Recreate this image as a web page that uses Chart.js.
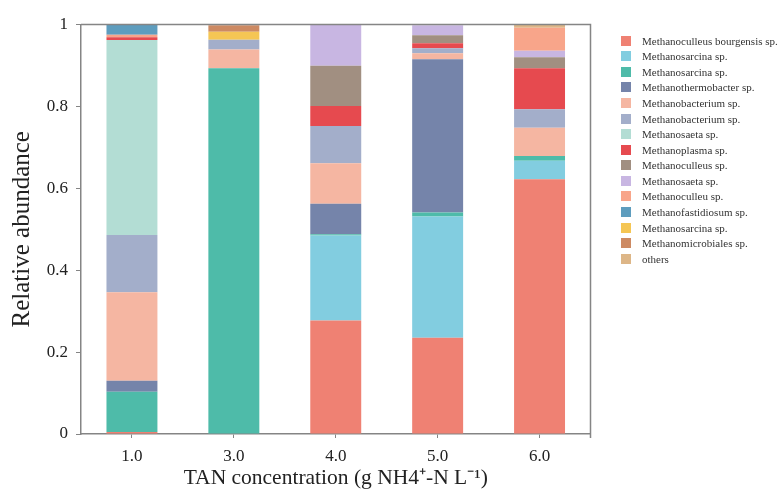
<!DOCTYPE html>
<html>
<head>
<meta charset="utf-8">
<script src="https://cdn.jsdelivr.net/npm/chart.js@4/dist/chart.umd.min.js"></script>
<style>
  body { margin: 0; background: #fff; }
  #wrap { position: relative; width: 781px; height: 495px; }
  #legend { position: absolute; left: 621px; top: 33px; font: 11px "Liberation Serif", serif; color: #333; }
  #legend .item { display: flex; align-items: center; height: 15.57px; white-space: nowrap; }
  #legend .box { width: 10px; height: 10px; margin-right: 11px; flex: none; }
</style>
</head>
<body>
<div id="wrap">
  <canvas id="abundanceChart" width="781" height="495"></canvas>
  <div id="legend"></div>
</div>
<script>
const categories = ['1.0', '3.0', '4.0', '5.0', '6.0'];

const taxa = [
  'Methanoculleus bourgensis sp.', 'Methanosarcina sp.', 'Methanosarcina sp.',
  'Methanothermobacter sp.', 'Methanobacterium sp.', 'Methanobacterium sp.',
  'Methanosaeta sp.', 'Methanoplasma sp.', 'Methanoculleus sp.', 'Methanosaeta sp.',
  'Methanoculleu sp.', 'Methanofastidiosum sp.', 'Methanosarcina sp.',
  'Methanomicrobiales sp.', 'others'
];

const colors = [
  '#ef8173', '#82cde0', '#4ebba9', '#7584aa', '#f5b6a2', '#a3aeca', '#b3ddd4',
  '#e64a4f', '#a18f81', '#c8b6e2', '#f8a58a', '#5e9dbe', '#f5c654', '#cd8a63', '#ddb687'
];

// relative abundance per taxon, for TAN 1.0 / 3.0 / 4.0 / 5.0 / 6.0
const bourgensis    = [0.005, 0,     0.277, 0.235, 0.622];
const sarcinaBlue   = [0,     0,     0.208, 0.296, 0.045];
const sarcinaTeal   = [0.098, 0.893, 0.003, 0.010, 0.012];
const thermobacter  = [0.027, 0,     0.074, 0.374, 0];
const bacteriumA    = [0.216, 0.046, 0.099, 0.015, 0.069];
const bacteriumB    = [0.140, 0.024, 0.091, 0.012, 0.045];
const saetaA        = [0.476, 0,     0,     0,     0];
const plasma        = [0.007, 0,     0.049, 0.012, 0.100];
const culleus       = [0,     0,     0.098, 0.020, 0.027];
const saetaB        = [0,     0,     0.100, 0.024, 0.016];
const culleu        = [0.006, 0,     0,     0,     0.056];
const fastidiosum   = [0.024, 0,     0,     0,     0];
const sarcinaYellow = [0,     0.019, 0,     0,     0];
const microbiales   = [0,     0.016, 0,     0,     0];
const others        = [0,     0,     0,     0,     0.008];

const series = [bourgensis, sarcinaBlue, sarcinaTeal, thermobacter, bacteriumA, bacteriumB,
  saetaA, plasma, culleus, saetaB, culleu, fastidiosum, sarcinaYellow, microbiales, others];

const yTicks = [0, 0.2, 0.4, 0.6, 0.8, 1];

const frameColor = '#858585';
const serif = '"Liberation Serif", "Times New Roman", serif';

// top and right edges of the plot box
const frame = {
  id: 'frame',
  afterDraw(chart) {
    const {ctx, chartArea: a} = chart;
    ctx.save();
    ctx.strokeStyle = frameColor;
    ctx.lineWidth = 1.5;
    ctx.beginPath();
    ctx.moveTo(a.left, a.top);
    ctx.lineTo(a.right, a.top);
    ctx.lineTo(a.right, a.bottom + 4);
    ctx.stroke();
    ctx.restore();
  }
};

const chart = new Chart(document.getElementById('abundanceChart'), {
  type: 'bar',
  data: {
    labels: categories,
    datasets: series.map((values, i) => ({
      label: taxa[i],
      data: values,
      backgroundColor: colors[i],
      borderWidth: 0,
      barPercentage: 0.5,
      categoryPercentage: 1
    }))
  },
  options: {
    responsive: false,
    animation: false,
    layout: { padding: { left: 4, top: 24.5, right: 190.5, bottom: 0 } },
    plugins: {
      legend: { display: false },
      tooltip: { enabled: false }
    },
    scales: {
      x: {
        stacked: true,
        afterFit(scale) { scale.height = 61; },
        grid: { display: true, drawOnChartArea: false, offset: false, tickLength: 4, color: frameColor },
        border: { display: true, color: frameColor, width: 1.5 },
        ticks: { color: '#222', padding: 8, font: { family: serif, size: 17 } },
        title: {
          display: true,
          text: 'TAN concentration (g NH4\u207A-N L\u207B\u00B9)',
          color: '#222',
          font: { family: serif, size: 21.5 },
          padding: { top: 0, bottom: 4 }
        }
      },
      y: {
        stacked: true,
        min: 0,
        max: 1,
        afterFit(scale) { scale.width = 77; },
        afterBuildTicks(scale) { scale.ticks = yTicks.map(v => ({ value: v })); },
        grid: { display: true, drawOnChartArea: false, tickLength: 5, color: frameColor },
        border: { display: true, color: frameColor, width: 1.5 },
        ticks: {
          color: '#222',
          padding: 8,
          font: { family: serif, size: 17 },
          callback: v => String(Math.round(v * 10) / 10)
        },
        title: {
          display: true,
          text: 'Relative abundance',
          color: '#222',
          font: { family: serif, size: 25 },
          padding: { top: 3, bottom: 4 }
        }
      }
    }
  },
  plugins: [frame]
});

// legend beside the plot
const legend = document.getElementById('legend');
chart.data.datasets.forEach(ds => {
  const row = document.createElement('div');
  row.className = 'item';
  const box = document.createElement('span');
  box.className = 'box';
  box.style.background = ds.backgroundColor;
  const txt = document.createElement('span');
  txt.textContent = ds.label;
  row.appendChild(box);
  row.appendChild(txt);
  legend.appendChild(row);
});
</script>
</body>
</html>
